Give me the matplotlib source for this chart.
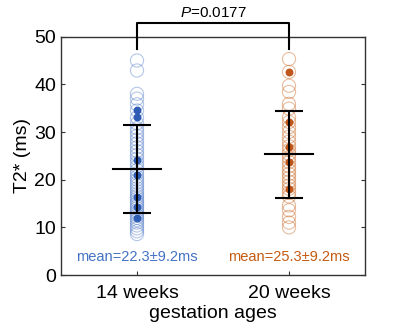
import matplotlib.pyplot as plt

plt.rcParams['font.family'] = ['Liberation Sans', 'DejaVu Sans']
plt.rcParams['mathtext.fontset'] = 'custom'
plt.rcParams['mathtext.it'] = 'Liberation Sans:italic'
plt.rcParams['mathtext.rm'] = 'Liberation Sans'

groups = ['14 weeks', '20 weeks']
means = [22.3, 25.3]
sds = [9.2, 9.2]
p_value = '0.0177'

# open circles (all subjects)
t2_14 = [45, 42.9, 38, 37, 35.8, 34.5, 33, 31.8, 30.8, 30, 29.2, 28.4, 27.6, 26.8, 26,
         25.2, 24.4, 23.6, 22.8, 22, 21.3, 20.6, 20, 19.4, 18.8, 18.2, 17.6, 17, 16.5, 16,
         15.5, 15, 14.5, 14, 13.5, 13, 12.5, 12, 11.5, 11, 10.4, 9.8, 9.2, 8.6]
t2_20 = [45.3, 42.6, 39.7, 38.4, 35.9, 34.9, 33.1, 32.1, 31, 30, 29, 28, 27, 26.2, 25.4,
         24.6, 23.7, 22.8, 22, 21.2, 20.4, 19.6, 18.8, 18.1, 17.3, 16.5, 14.6, 13.6, 12.2,
         11, 10]
# highlighted subjects (filled)
hi_14 = [34.7, 33.1, 24.1, 20.9, 16.3, 14.3, 11.9]
hi_20 = [42.6, 32.1, 26.8, 23.7, 18.1]

blue = '#4472C4'
orange = '#C55A11'

fig = plt.figure(figsize=(4, 3.33), dpi=100)
ax = fig.add_axes([0.1525, 0.174, 0.76, 0.716])

for i, (vals, hi, c, dc) in enumerate([(t2_14, hi_14, blue, '#2F5DB5'),
                                       (t2_20, hi_20, orange, '#C0561A')]):
    x = i + 1
    ax.scatter([x] * len(vals), vals, s=90, facecolors='none', edgecolors=c,
               linewidths=0.8, alpha=0.4, zorder=2)
    ax.scatter([x] * len(hi), hi, s=22, color=dc, zorder=3)
    ax.errorbar(x, means[i], yerr=sds[i], color='black', lw=1.5, capsize=10,
                capthick=1.5, zorder=4)
    ax.plot([x - 0.16, x + 0.16], [means[i], means[i]], color='black', lw=1.5, zorder=4)
    ax.text(x, 3.8, 'mean=%.1f\u00b1%.1fms' % (means[i], sds[i]), color=c,
            ha='center', va='center', fontsize=10.5)

# significance bracket
ax.plot([1, 1, 2, 2], [47.5, 52.9, 52.9, 47.5], color='black', lw=1.5,
        clip_on=False, zorder=5)
ax.text(1.5, 53.4, '$P$=' + p_value, ha='center', va='bottom', fontsize=11)

ax.set_xlim(0.5, 2.5)
ax.set_ylim(0, 50)
ax.set_xticks([1, 2])
ax.set_xticklabels(groups)
ax.set_yticks([0, 10, 20, 30, 40, 50])
ax.tick_params(direction='in', top=True, right=True, labelsize=14, length=3,
               color='#333333')
ax.tick_params(axis='x', pad=7)
for s in ax.spines.values():
    s.set_color('#333333')
    s.set_linewidth(1.0)
ax.set_xlabel('gestation ages', fontsize=14, labelpad=2)
ax.set_ylabel('T2* (ms)', fontsize=14, labelpad=2)

fig.savefig('out.png', dpi=100)
